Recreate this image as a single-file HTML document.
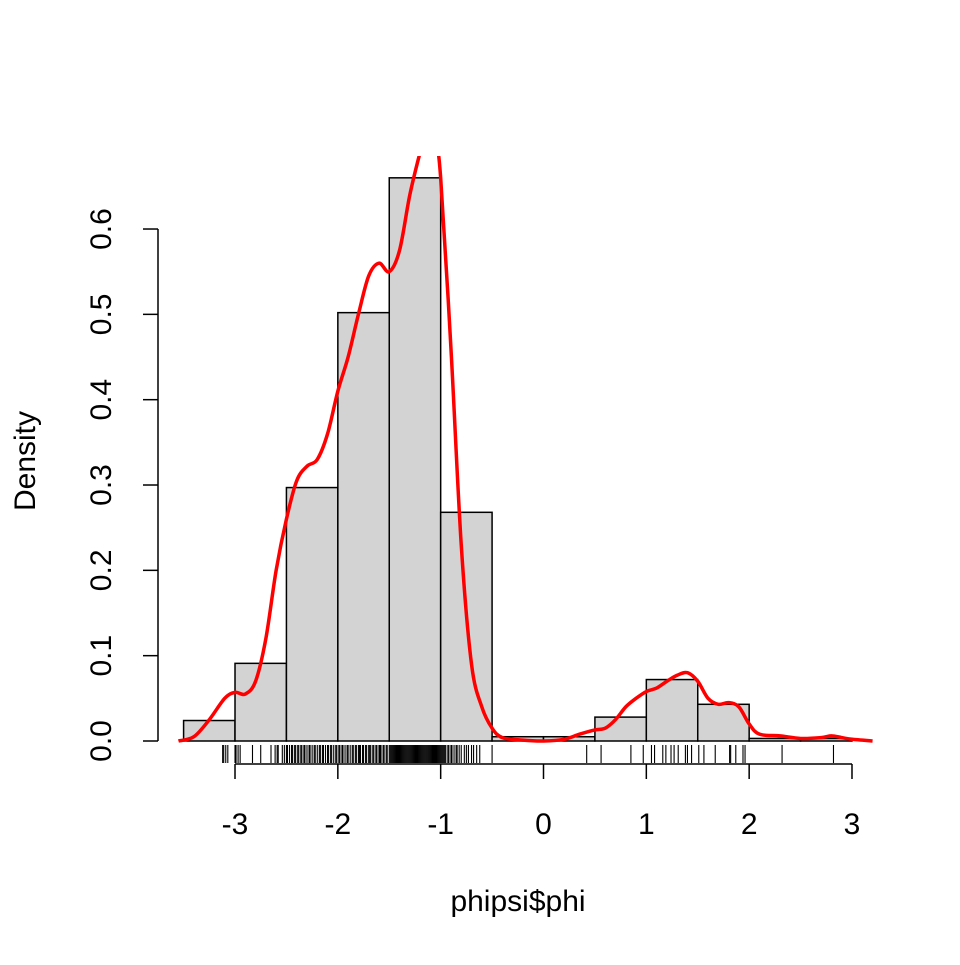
<!DOCTYPE html>
<html><head><meta charset="utf-8"><style>
body{margin:0;background:#fff}
svg text{font-family:"Liberation Sans",Arial,sans-serif;font-size:30px;fill:#000}
</style></head><body>
<svg id="chart" width="960" height="960" viewBox="0 0 960 960" xmlns="http://www.w3.org/2000/svg">
<defs><clipPath id="clip"><rect x="0" y="156" width="960" height="700"/></clipPath></defs>
<g id="bars"></g>
<g id="rug"></g>
<g id="xaxis"></g>
<g id="yaxis"></g>
<path id="dens" fill="none" stroke="#ff0000" stroke-width="3.5" stroke-linejoin="round" clip-path="url(#clip)"/>
<text x="518" y="911" text-anchor="middle">phipsi$phi</text>
<text transform="translate(35,461) rotate(-90)" text-anchor="middle">Density</text>
</svg>
<script>
const binEdges=[-3.5,-3,-2.5,-2,-1.5,-1,-0.5,0,0.5,1,1.5,2,2.5,3];
const binDensity=[0.024,0.091,0.297,0.502,0.66,0.268,0.005,0.005,0.028,0.072,0.043,0.003,0.003];
const xTicks=[-3,-2,-1,0,1,2,3];
const yTicks=[0,0.1,0.2,0.3,0.4,0.5,0.6];
const yTickLabels=["0.0","0.1","0.2","0.3","0.4","0.5","0.6"];
const densX=[-3.55,-3.4,-3.25,-3.1,-3.0,-2.9,-2.8,-2.7,-2.6,-2.5,-2.4,-2.3,-2.2,-2.1,-2.0,-1.9,-1.8,-1.7,-1.6,-1.5,-1.4,-1.3,-1.2,-1.13,-1.05,-1.0,-0.9,-0.8,-0.7,-0.6,-0.5,-0.4,-0.2,0,0.2,0.35,0.5,0.6,0.7,0.8,0.9,1.0,1.1,1.2,1.3,1.4,1.5,1.6,1.7,1.8,1.9,2.0,2.1,2.3,2.5,2.7,2.8,2.9,3.0,3.2];
const densY=[0,0.005,0.025,0.05,0.057,0.055,0.07,0.12,0.2,0.26,0.305,0.322,0.33,0.36,0.41,0.45,0.5,0.545,0.56,0.55,0.575,0.64,0.69,0.72,0.7,0.66,0.46,0.23,0.09,0.04,0.015,0.004,0.001,0,0.002,0.008,0.013,0.015,0.025,0.04,0.05,0.058,0.062,0.07,0.077,0.08,0.07,0.05,0.043,0.045,0.04,0.02,0.008,0.006,0.003,0.004,0.006,0.004,0.002,0];
const rugValues=[-3.12,-3.11,-3.09,-3.07,-3.0,-2.99,-2.97,-2.95,-2.83,-2.75,-2.65,-2.61,-2.59,-2.58,-2.54,-2.52,-2.5,-2.49,-2.47,-2.45,-2.44,-2.42,-2.41,-2.39,-2.38,-2.36,-2.35,-2.33,-2.32,-2.3,-2.28,-2.27,-2.25,-2.23,-2.22,-2.2,-2.18,-2.17,-2.15,-2.14,-2.12,-2.1,-2.09,-2.07,-2.06,-2.04,-2.02,-2.01,-1.99,-1.98,-1.96,-1.95,-1.93,-1.91,-1.9,-1.88,-1.86,-1.85,-1.83,-1.82,-1.8,-1.79,-1.78,-1.76,-1.75,-1.73,-1.72,-1.7,-1.69,-1.68,-1.66,-1.65,-1.63,-1.62,-1.6,-1.59,-1.58,-1.56,-1.55,-1.53,-1.52,-1.5,-1.49,-1.48,-1.47,-1.46,-1.45,-1.44,-1.43,-1.42,-1.41,-1.4,-1.39,-1.38,-1.37,-1.36,-1.35,-1.34,-1.33,-1.32,-1.31,-1.3,-1.29,-1.28,-1.27,-1.26,-1.25,-1.24,-1.23,-1.22,-1.21,-1.2,-1.19,-1.18,-1.17,-1.16,-1.15,-1.14,-1.13,-1.12,-1.11,-1.1,-1.09,-1.08,-1.07,-1.06,-1.05,-1.04,-1.03,-1.02,-1.01,-1.0,-0.99,-0.98,-0.97,-0.96,-0.95,-0.93,-0.92,-0.9,-0.89,-0.87,-0.85,-0.84,-0.82,-0.8,-0.77,-0.75,-0.73,-0.7,-0.68,-0.65,-0.62,-0.5,0.42,0.56,0.85,0.97,1.05,1.08,1.16,1.19,1.24,1.27,1.31,1.38,1.4,1.44,1.51,1.56,1.67,1.81,1.82,1.87,1.94,1.96,2.32,2.82];
const sx=v=>543.5+v*102.83, sy=v=>741-v*853.3;
const NS="http://www.w3.org/2000/svg";
function mk(tag,attrs,parent){const e=document.createElementNS(NS,tag);for(const k in attrs)e.setAttribute(k,attrs[k]);parent.appendChild(e);return e;}
const bars=document.getElementById('bars');
binDensity.forEach((d,i)=>{const x0=sx(binEdges[i]),x1=sx(binEdges[i+1]);
const r=mk('rect',{x:x0,y:sy(d),width:x1-x0,height:sy(0)-sy(d),fill:'#d3d3d3',stroke:'#000','stroke-width':1.5},bars);

});
const rug=document.getElementById('rug');
rugValues.forEach(v=>{const l=mk('line',{x1:sx(v),x2:sx(v),y1:745,y2:763,stroke:'#000','stroke-width':1.1},rug);

});
const xa=document.getElementById('xaxis');
mk('line',{x1:sx(xTicks[0]),x2:sx(xTicks[xTicks.length-1]),y1:764,y2:764,stroke:'#000','stroke-width':1.5},xa);
xTicks.forEach(t=>{mk('line',{x1:sx(t),x2:sx(t),y1:764,y2:779,stroke:'#000','stroke-width':1.5},xa);
const tx=mk('text',{x:sx(t),y:834,'text-anchor':'middle'},xa);tx.textContent=String(t);

});
const ya=document.getElementById('yaxis');
mk('line',{x1:158,x2:158,y1:sy(yTicks[0]),y2:sy(yTicks[yTicks.length-1]),stroke:'#000','stroke-width':1.5},ya);
yTicks.forEach((t,i)=>{mk('line',{x1:143,x2:158,y1:sy(t),y2:sy(t),stroke:'#000','stroke-width':1.5},ya);
const tx=mk('text',{transform:`translate(111,${sy(t)}) rotate(-90)`,'text-anchor':'middle'},ya);tx.textContent=yTickLabels[i];

});
const pts=densX.map((x,i)=>[sx(x),sy(densY[i])]);
let d=`M${pts[0][0]},${pts[0][1]}`;
for(let i=0;i<pts.length-1;i++){const p0=pts[Math.max(0,i-1)],p1=pts[i],p2=pts[i+1],p3=pts[Math.min(pts.length-1,i+2)];
d+=` C${p1[0]+(p2[0]-p0[0])/6},${p1[1]+(p2[1]-p0[1])/6} ${p2[0]-(p3[0]-p1[0])/6},${p2[1]-(p3[1]-p1[1])/6} ${p2[0]},${p2[1]}`;}
document.getElementById('dens').setAttribute('d',d);
</script>
</body></html>
